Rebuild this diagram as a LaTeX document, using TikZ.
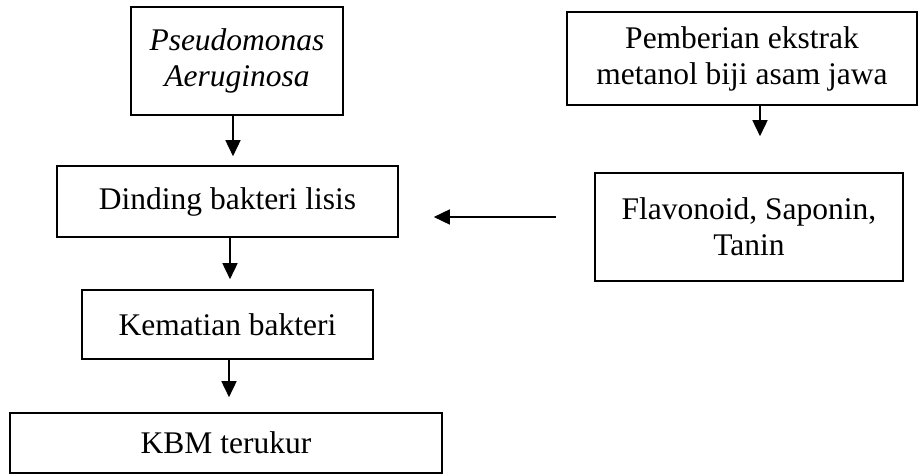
\documentclass[tikz,border=0pt]{standalone}
\usepackage{fontspec}
\setmainfont{Liberation Serif}
\usetikzlibrary{arrows.meta,calc}
\begin{document}
\begin{tikzpicture}[x=1pt,y=-1pt,
  box/.style={draw=black,line width=1.6pt,inner sep=0pt,align=center,
    font=\fontsize{31.5}{36}\selectfont},
  arr/.style={line width=1.6pt,-{Triangle[width=15pt,length=16pt]}}]
\useasboundingbox (0,0) rectangle (918,476);
\node[box,minimum width=212pt,minimum height=108pt] (b1) at (237,61) {\itshape Pseudomonas\\\itshape Aeruginosa};
\node[box,minimum width=350pt,minimum height=93pt] (b2) at (742,58.5) {Pemberian ekstrak\\metanol biji asam jawa};
\node[box,minimum width=341pt,minimum height=71pt] (b3) at (227.5,201.5) {Dinding bakteri lisis};
\node[box,minimum width=308pt,minimum height=108pt] (b4) at (749,227) {Flavonoid, Saponin,\\Tanin};
\node[box,minimum width=291pt,minimum height=69pt] (b5) at (227.5,324.5) {Kematian bakteri};
\node[box,minimum width=432pt,minimum height=60pt] (b6) at (226,443) {KBM terukur};
\draw[arr,shorten >=9pt] ([xshift=-4pt]b1.south) -- ([xshift=-4pt]b1.south |- b3.north);
\draw[arr,shorten >=36pt] ([xshift=18pt]b2.south) -- ([xshift=18pt]b2.south |- b4.north);
\draw[arr,shorten <=38pt,shorten >=35pt] ([yshift=10pt]b4.west) -- ([yshift=10pt]b4.west -| b3.east);
\draw[arr,shorten >=10pt] ([xshift=2.5pt]b3.south) -- ([xshift=2.5pt]b3.south |- b5.north);
\draw[arr,shorten >=15pt] ([xshift=1.5pt]b5.south) -- ([xshift=1.5pt]b5.south |- b6.north);
\end{tikzpicture}
\end{document}
